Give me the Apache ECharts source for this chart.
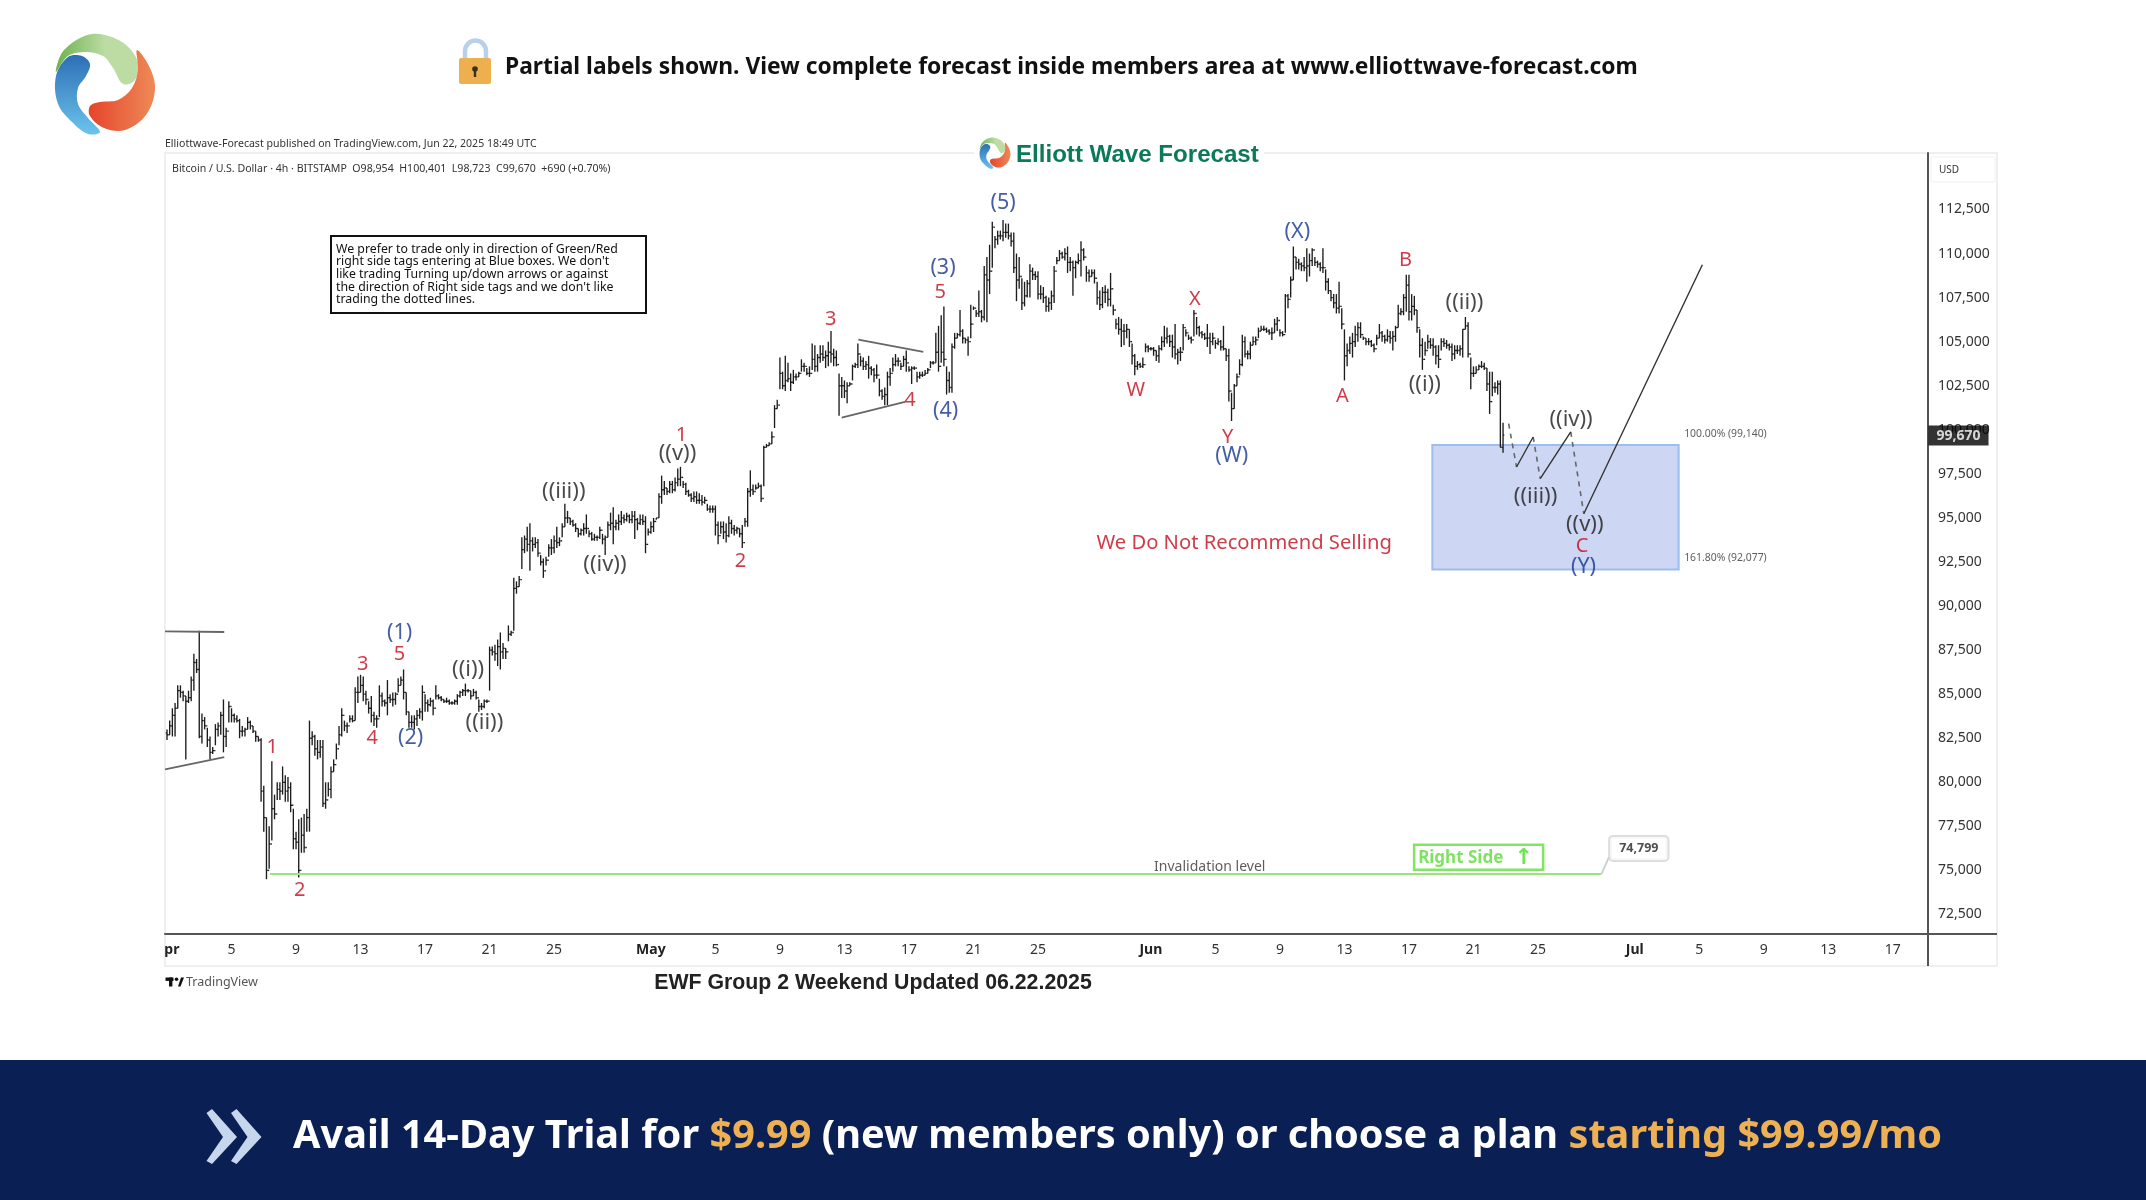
<!DOCTYPE html>
<html>
<head>
<meta charset="utf-8">
<title>Bitcoin Elliott Wave</title>
<script src="https://cdn.jsdelivr.net/npm/echarts@6/dist/echarts.min.js"></script>
<style>
  html, body { margin: 0; padding: 0; background: #fff; }
  #main { width: 2146px; height: 1200px; }
</style>
</head>
<body>
<div id="main"></div>
<script>
"use strict";

// 4h bars, one line per day (Apr 1 .. Jun 22 2025), hundreds of USD
const barHigh = [
  830,835,842,845,855,855, 852,849,852,860,873,870, 886,839,837,831,826,820, 833,834,840,847,831,846,
  842,839,838,836,832,831, 837,835,832,829,826,825, 798,780,775,812,793,800, 800,809,804,803,800,785,
  772,779,780,782,785,835, 829,827,824,824,824,800, 800,809,813,822,832,842, 835,834,838,838,854,860,
  861,860,852,846,849,840, 838,855,851,847,858,850, 851,851,859,860,864,851, 840,838,838,841,842,855,
  850,847,848,847,855,850, 849,847,848,847,846,847, 850,852,853,856,853,852, 853,852,847,845,847,847,
  877,877,878,881,885,879, 876,889,886,916,914,917, 939,940,945,947,939,939, 938,929,927,928,935,938,
  940,945,939,947,958,954, 950,949,947,944,944,947, 952,943,942,941,940,945, 941,940,948,953,956,949,
  952,954,952,953,952,954, 954,950,952,952,951,944,
  948,950,950,964,974,971, 967,971,971,973,978,979, 971,970,966,964,965,965, 964,963,962,958,957,957,
  957,948,948,948,947,951, 949,946,945,944,946,950, 967,977,969,969,970,969, 991,992,993,999,1014,1017,
  1041,1033,1042,1038,1032,1034, 1032,1033,1040,1038,1035,1036, 1049,1048,1043,1048,1048,1045, 1050,1056,1046,1045,1032,1030,
  1028,1027,1027,1037,1038,1049, 1042,1041,1039,1042,1036,1035, 1037,1029,1023,1024,1033,1035, 1041,1043,1041,1038,1042,1045,
  1036,1036,1036,1033,1033,1033, 1034,1035,1039,1039,1055,1059, 1065,1070,1036,1033,1049,1055, 1055,1068,1057,1052,1053,1071,
  1070,1068,1079,1068,1093,1098, 1105,1118,1110,1113,1113,1119, 1117,1117,1112,1112,1100,1098, 1086,1084,1085,1094,1092,1090,
  1090,1082,1081,1076,1075,1079, 1093,1098,1102,1101,1103,1104, 1098,1096,1096,1100,1107,1103, 1093,1091,1091,1091,1084,1079,
  1081,1082,1080,1089,1071,1063, 1064,1063,1060,1060,1057,1049, 1043,1039,1038,1041,1049,1048,
  1047,1047,1045,1048,1053,1059, 1058,1054,1054,1060,1046,1047, 1060,1057,1054,1053,1068,1064, 1059,1056,1055,1060,1055,1055,
  1051,1052,1051,1059,1046,1046, 1021,1026,1032,1040,1054,1053, 1045,1050,1053,1053,1058,1059, 1059,1058,1057,1058,1063,1064,
  1057,1056,1077,1077,1087,1104, 1098,1097,1095,1098,1103,1100, 1103,1098,1096,1095,1103,1091, 1086,1079,1077,1077,1084,1069,
  1057,1049,1053,1055,1059,1061, 1061,1053,1052,1052,1051,1049, 1054,1060,1056,1054,1057,1056, 1056,1059,1071,1069,1077,1088,
  1088,1077,1076,1068,1057,1052, 1050,1054,1052,1052,1048,1048, 1052,1052,1051,1049,1049,1048, 1048,1048,1057,1064,1061,1041,
  1036,1036,1037,1039,1038,1035, 1033,1033,1027,1028,1028,1004
];
const barLow = [
  824,827,826,826,842,848, 846,813,845,846,852,862, 825,822,830,820,813,816, 821,826,827,817,820,834,
  834,834,834,825,826,826, 830,830,828,823,823,789, 772,745,751,767,779,790, 790,793,789,789,783,762,
  762,746,760,760,772,772, 821,815,813,814,786,785, 792,791,806,813,821,826, 829,828,834,834,835,845,
  851,846,844,839,834,832, 831,837,843,843,838,845, 843,844,851,855,847,838, 831,831,830,832,836,835,
  840,840,843,838,847,847, 846,845,845,844,844,844, 844,848,849,849,851,847, 849,847,840,841,842,845,
  852,872,869,866,864,870, 870,880,883,886,907,911, 921,930,931,920,931,933, 928,923,916,923,928,929,
  930,933,934,939,945,947, 946,945,942,939,940,940, 941,939,937,937,937,938, 935,929,939,943,935,943,
  943,946,947,948,947,947, 938,943,946,946,930,940,
  941,942,949,950,958,963, 963,964,964,965,968,968, 967,963,962,959,959,958, 958,957,958,954,953,953,
  940,935,941,938,936,939, 941,940,941,939,933,945, 945,962,963,966,967,959, 968,990,991,992,1001,1012,
  1023,1023,1022,1027,1022,1026, 1028,1030,1033,1033,1031,1030, 1034,1033,1033,1038,1039,1035, 1036,1038,1036,1036,1008,1018,
  1018,1015,1025,1028,1035,1035, 1036,1034,1034,1029,1031,1027, 1029,1019,1017,1014,1014,1025, 1033,1036,1036,1034,1036,1033,
  1033,1026,1034,1027,1029,1030, 1031,1032,1035,1037,1038,1033, 1038,1036,1020,1021,1021,1046, 1052,1053,1049,1049,1042,1052,
  1068,1064,1064,1061,1062,1061, 1077,1092,1103,1105,1108,1107, 1109,1108,1104,1089,1073,1080, 1068,1070,1075,1075,1085,1085,
  1074,1074,1072,1067,1067,1068, 1072,1094,1096,1097,1096,1089, 1090,1076,1086,1094,1087,1096, 1084,1084,1087,1083,1071,1068,
  1069,1072,1070,1070,1065,1057, 1054,1047,1048,1052,1047,1037, 1031,1034,1035,1035,1044,1044,
  1045,1042,1039,1038,1045,1047, 1049,1047,1041,1040,1037,1039, 1045,1053,1051,1049,1053,1054, 1053,1052,1051,1047,1043,1048,
  1046,1048,1045,1045,1039,1016, 1005,1012,1025,1031,1036,1041, 1040,1040,1048,1048,1052,1056, 1056,1055,1054,1051,1055,1056,
  1053,1053,1055,1069,1075,1085, 1091,1091,1090,1090,1084,1087, 1093,1093,1092,1090,1089,1079, 1077,1073,1069,1066,1066,1057,
  1028,1036,1043,1041,1047,1050, 1052,1051,1048,1048,1047,1044, 1048,1052,1050,1049,1050,1049, 1045,1050,1058,1065,1065,1067,
  1062,1062,1065,1055,1041,1034, 1042,1046,1046,1042,1037,1035, 1045,1047,1046,1045,1039,1040, 1043,1042,1041,1057,1041,1023,
  1030,1032,1034,1035,1034,1022, 1009,1019,1021,1020,990,987
];
const barClose = [
  827,832,838,842,852,851, 849,846,848,858,868,864, 826,835,832,824,817,818, 830,832,838,826,829,843,
  838,836,835,829,829,830, 834,832,829,826,824,795, 780,750,765,785,782,796, 795,800,795,797,787,768,
  766,750,770,763,780,825, 826,819,817,820,788,790, 796,806,810,819,827,838, 832,832,836,835,851,851,
  855,850,847,842,838,836, 836,849,846,845,848,847, 847,850,855,858,851,840, 834,834,836,838,840,851,
  845,844,846,842,849,848, 847,846,846,845,845,846, 849,851,852,852,852,849, 851,848,843,843,846,846,
  875,874,873,877,874,876, 874,884,885,910,911,915, 932,938,935,937,935,936, 930,925,920,926,933,933,
  937,936,937,945,950,950, 948,946,944,941,943,944, 944,941,938,939,939,943, 938,939,946,947,945,947,
  948,950,949,951,949,951, 949,947,949,948,935,942,
  945,948,950,962,966,967, 965,969,966,970,972,973, 969,965,963,961,962,960, 960,959,960,955,955,955,
  946,940,945,942,940,947, 944,943,944,941,936,948, 965,966,965,967,968,961, 990,991,992,996,1012,1014,
  1032,1025,1028,1029,1027,1030, 1030,1032,1036,1036,1032,1032, 1040,1036,1041,1043,1041,1042, 1044,1043,1041,1037,1025,1025,
  1022,1025,1026,1036,1037,1043, 1039,1036,1037,1035,1034,1031, 1031,1022,1019,1020,1030,1032, 1037,1039,1039,1036,1040,1038,
  1034,1035,1035,1030,1031,1031, 1032,1034,1038,1038,1044,1036, 1044,1040,1028,1024,1047,1052, 1054,1056,1052,1051,1050,1060,
  1069,1066,1067,1064,1088,1085, 1090,1115,1108,1110,1110,1112, 1112,1110,1107,1092,1085,1087, 1072,1076,1083,1090,1088,1087,
  1077,1077,1075,1070,1072,1076, 1090,1096,1100,1098,1100,1095, 1095,1092,1095,1096,1102,1098, 1089,1087,1089,1086,1075,1071,
  1078,1078,1074,1080,1068,1060, 1057,1056,1056,1057,1050,1042, 1036,1037,1036,1037,1047,1046,
  1046,1045,1042,1046,1050,1052, 1053,1050,1047,1043,1044,1044, 1058,1055,1052,1051,1066,1058, 1055,1054,1052,1052,1050,1052,
  1049,1050,1047,1046,1042,1022, 1012,1025,1030,1037,1050,1043, 1043,1048,1050,1051,1056,1057, 1057,1056,1055,1055,1060,1062,
  1055,1054,1076,1074,1085,1098, 1095,1094,1093,1092,1093,1096, 1102,1095,1094,1092,1092,1084, 1079,1075,1072,1069,1070,1060,
  1042,1045,1049,1050,1054,1058, 1054,1052,1050,1050,1048,1046, 1052,1055,1053,1051,1053,1052, 1053,1058,1066,1067,1075,1082,
  1067,1070,1068,1058,1048,1040, 1045,1050,1048,1047,1042,1040, 1050,1049,1048,1047,1043,1045, 1045,1046,1057,1059,1043,1032,
  1032,1034,1036,1036,1035,1026, 1016,1024,1024,1026,990,997
];
const firstOpen = 828;

const yTickValues = [72500, 75000, 77500, 80000, 82500, 85000, 87500, 90000, 92500, 95000, 97500, 100000, 102500, 105000, 107500, 110000, 112500];
const xTickDates = ["2025-04-01","2025-04-05","2025-04-09","2025-04-13","2025-04-17","2025-04-21","2025-04-25","2025-05-01","2025-05-05","2025-05-09","2025-05-13","2025-05-17","2025-05-21","2025-05-25","2025-06-01","2025-06-05","2025-06-09","2025-06-13","2025-06-17","2025-06-21","2025-06-25","2025-07-01","2025-07-05","2025-07-09","2025-07-13","2025-07-17"];
const xTickLabels = ["Apr","5","9","13","17","21","25","May","5","9","13","17","21","25","Jun","5","9","13","17","21","25","Jul","5","9","13","17"];

// wave labels: days since Apr 1, price
const redLabels = ["1","2","3","5","4","1","2","3","5","4","W","X","Y","A","B","C"];
const redDays = [6.53,8.23,12.13,14.42,12.73,31.9,35.55,41.15,47.94,46.07,60.07,63.72,65.76,72.88,76.79,87.73];
const redPrices = [81970,73896,86705,87248,82513,99667,92526,106265,107817,101686,102229,107429,99590,101918,109603,93380];
const blueLabels = ["(1)","(2)","(3)","(4)","(5)","(W)","(X)","(Y)"];
const blueDays = [14.42,15.1,48.11,48.28,51.84,66.01,70.08,87.82];
const bluePrices = [88490,82513,109215,101065,112863,98503,111233,92216];
const blackLabels = ["((i))","((ii))","((iii))","((iv))","((v))","((i))","((ii))","((iii))","((iv))","((v))"];
const blackDays = [18.67,19.68,24.6,27.15,31.65,77.98,80.44,84.85,87.05,87.9];
const blackPrices = [86394,83367,96485,92371,98658,102539,107197,96175,100599,94622];

// projected path after the last bar
const pathDays = [83.18,83.67,84.7,85.14,87.03,87.84,95.19];
const pathPrices = [100346,97890,99592,97226,99876,95240,109368];

// blue box
const boxDays = [78.45,93.72];
const boxPrices = [99140,92077];
const boxLabels = ["100.00% (99,140)","161.80% (92,077)"];

// triangles
const triangleDays = [[-0.12,3.55],[-0.12,3.55],[42.86,46.89],[41.83,45.75]];
const trianglePrices = [[88567,88529],[80737,81435],[105112,104415],[100687,101578]];

const invalidationPrice = 74799;
const invalidationDays = [6.39,88.94];
const lastPrice = 99670;

const grid = { left: 165, top: 153, width: 1763, height: 781 };
const DAY = 86400000;
const startTime = Date.UTC(2025, 3, 1);
const xMin = startTime - 0.124 * DAY;
const xMax = startTime + 109.18 * DAY;
const yMin = 71393;
const yMax = 115705;
const toTime = (d) => startTime + d * DAY;

const xTickTimes = xTickDates.map((d) => new Date(d + "T00:00:00Z").getTime());
const monthNames = ["Apr", "May", "Jun", "Jul"];

const bars = barHigh.map((h, i) => [
  startTime + i * DAY / 6,
  (i ? barClose[i - 1] : firstOpen) * 100,
  h * 100,
  barLow[i] * 100,
  barClose[i] * 100,
]);

function renderBar(params, api) {
  const t = api.value(0);
  const hi = api.coord([t, api.value(2)]);
  const lo = api.coord([t, api.value(3)]);
  const op = api.coord([t, api.value(1)]);
  const cl = api.coord([t, api.value(4)]);
  const style = { stroke: "#1c1c1c", lineWidth: 1.35, fill: null };
  return {
    type: "group",
    children: [
      { type: "line", shape: { x1: hi[0], y1: hi[1], x2: lo[0], y2: lo[1] }, style },
      { type: "line", shape: { x1: op[0] - 1.3, y1: op[1], x2: op[0], y2: op[1] }, style },
      { type: "line", shape: { x1: cl[0], y1: cl[1], x2: cl[0] + 1.3, y2: cl[1] }, style },
    ],
  };
}

function waveSeries(labels, days, prices, color, fontSize) {
  return {
    type: "scatter",
    silent: true,
    z: 6,
    clip: false,
    symbolSize: 1,
    itemStyle: { color: "transparent" },
    label: {
      show: true,
      position: "inside",
      color,
      fontFamily: "Noto Sans",
      fontSize,
      formatter: (p) => p.value[2],
    },
    data: labels.map((t, i) => [toTime(days[i]), prices[i], t]),
  };
}

// one anchored text label, no symbol
function noteSeries(day, price, text, label) {
  return {
    type: "scatter",
    silent: true,
    z: 7,
    clip: false,
    symbolSize: 1,
    itemStyle: { color: "transparent" },
    label: Object.assign({ show: true, fontFamily: "Noto Sans", formatter: text }, label),
    data: [[toTime(day), price]],
  };
}

function lineSeries(data, color, width, type, z) {
  return {
    type: "line",
    silent: true,
    z: z || 4,
    symbol: "none",
    connectNulls: false,
    lineStyle: { color, width, type: type || "solid" },
    data,
  };
}

const pathPoint = (i) => [toTime(pathDays[i]), pathPrices[i]];
const gap = [null, null];

let series = [
  {
    type: "line",
    silent: true,
    z: 1,
    symbol: "none",
    data: [],
    markArea: {
      silent: true,
      itemStyle: { color: "#cdd7f3", borderColor: "#9dbcf0", borderWidth: 2 },
      data: [[
        { xAxis: toTime(boxDays[0]), yAxis: boxPrices[0] },
        { xAxis: toTime(boxDays[1]), yAxis: boxPrices[1] },
      ]],
    },
  },
  {
    type: "custom",
    silent: true,
    z: 3,
    clip: true,
    renderItem: renderBar,
    encode: { x: 0, y: [1, 2, 3, 4] },
    data: bars,
  },
  lineSeries([pathPoint(0), pathPoint(1), gap, pathPoint(2), pathPoint(3), gap, pathPoint(4), pathPoint(5)], "#666", 1.6, [5, 5]),
  lineSeries([pathPoint(1), pathPoint(2), gap, pathPoint(3), pathPoint(4), gap, pathPoint(5), pathPoint(6)], "#333", 1.4),
  lineSeries([[toTime(invalidationDays[0]), invalidationPrice], [toTime(invalidationDays[1]), invalidationPrice]], "#9be37f", 2),
  lineSeries([[toTime(invalidationDays[1]), invalidationPrice], [toTime(89.4), 75760]], "#cfcfcf", 2),
  waveSeries(redLabels, redDays, redPrices, "#c40a1a", 20),
  waveSeries(blueLabels, blueDays, bluePrices, "#16348f", 21.5),
  waveSeries(blackLabels, blackDays, blackPrices, "#1c1c1c", 22),
  noteSeries(66.78, 93536, "We Do Not Recommend Selling", { position: "inside", color: "#c40a1a", fontSize: 20.2 }),
  noteSeries(64.65, 75218, "Invalidation level", { position: "inside", color: "#333", fontSize: 14 }),
  noteSeries(boxDays[1], boxPrices[0], boxLabels[0], { position: "right", distance: 5, offset: [0, -11], color: "#333", fontSize: 10.4 }),
  noteSeries(boxDays[1], boxPrices[1], boxLabels[1], { position: "right", distance: 5, offset: [0, -11], color: "#333", fontSize: 10.4 }),
  noteSeries(91.25, 76250, "74,799", {
    position: "inside", color: "#222", fontSize: 12.5, fontWeight: "bold",
    backgroundColor: "#fff", borderColor: "#d5d5d5", borderWidth: 2, borderRadius: 3, padding: [5, 9],
  }),
  noteSeries(81.32, 75745, "{t|Right Side}{a|↑}", {
    position: "inside", borderColor: "#62dd3c", borderWidth: 2.5, padding: [2, 4], width: 121, height: 21,
    align: "center", verticalAlign: "middle",
    rich: {
      t: { color: "#5fdb3c", fontSize: 17, fontWeight: "bold", fontFamily: "Noto Sans", width: 90, align: "left" },
      a: { color: "#4fdc2a", fontSize: 22, fontFamily: "DejaVu Sans", fontWeight: "bold", width: 28, align: "center" },
    },
  }),
  noteSeries(109.18, lastPrice, "99,670", {
    position: "right", distance: 0, color: "#fff", fontSize: 14, fontWeight: "bold",
    backgroundColor: "#000", padding: [3, 8],
  }),
];

triangleDays.forEach((d, i) => {
  series.push(lineSeries([[toTime(d[0]), trianglePrices[i][0]], [toTime(d[1]), trianglePrices[i][1]]], "#666", 1.8));
});

const swoosh = (points, from, to, x2, y2) => ({
  type: "polygon",
  shape: { points, smooth: 0.35 },
  style: { fill: new echarts.graphic.LinearGradient(0, 0, x2, y2, [{ offset: 0, color: from }, { offset: 1, color: to }]) },
});

function logo(ox, oy, k) {
  const p = (pts) => pts.map((q) => [ox + (q[0] - 105) * k, oy + (q[1] - 84) * k]);
  return [
    swoosh(p([[56,72],[64,50],[92,34],[122,42],[138,62],[135,80],[123,84],[113,68],[103,56],[86,52],[68,56]]), "#6db24f", "#bcdca4", 0.6, 0),
    swoosh(p([[56,76],[68,57],[82,56],[90,64],[86,76],[78,88],[78,104],[88,118],[100,132],[88,134],[72,122],[58,104]]), "#2c6fb5", "#6cc3ec", 0, 1),
    swoosh(p([[137,50],[150,68],[155,90],[146,115],[125,130],[104,128],[90,116],[90,106],[100,102],[118,100],[132,88],[138,70]]), "#e5452b", "#ee8a58", 1, 0),
  ];
}

const text = (x, y, str, fontSize, color, extra) => ({
  type: "text",
  x, y, z: 20,
  style: Object.assign({ text: str, fontSize, fill: color, fontFamily: "Noto Sans", verticalAlign: "middle" }, extra),
});
const hline = (x1, y1, x2, y2, stroke, lineWidth) => ({
  type: "line", z: 1, shape: { x1, y1, x2, y2 }, style: { stroke, lineWidth },
});

const chevron = (dx) => ({
  type: "polygon",
  shape: { points: [[206.5 + dx, 1113], [212 + dx, 1109], [237 + dx, 1137], [212 + dx, 1164], [206.5 + dx, 1161], [223 + dx, 1137]] },
  style: { fill: "#c6d6ec" },
});

const graphics = [
  // frame around the chart
  { type: "rect", z: -1, shape: { x: 165, y: 153, width: 1832, height: 813 }, style: { fill: "#fff", stroke: "#efefef", lineWidth: 2 } },
  hline(1928, 934, 1997, 934, "#555", 2),
  hline(1928, 934, 1928, 966, "#555", 2),
  // hides the left part of the Apr tick
  { type: "rect", z: 30, shape: { x: 140, y: 936, width: 24, height: 28 }, style: { fill: "#fff" } },

  ...logo(105, 84, 1),
  // lock
  { type: "arc", z: 20, shape: { cx: 475.5, cy: 51, r: 10.5, startAngle: Math.PI, endAngle: 0 }, style: { stroke: "#b8d1ea", lineWidth: 4.5, fill: null } },
  hline(465, 51, 465, 60, "#b8d1ea", 4.5),
  hline(486, 51, 486, 60, "#b8d1ea", 4.5),
  { type: "rect", z: 21, shape: { x: 459, y: 58, width: 32, height: 26, r: 2 }, style: { fill: "#eeb04f" } },
  { type: "circle", z: 22, shape: { cx: 475, cy: 69, r: 2.8 }, style: { fill: "#3a3020" } },
  { type: "rect", z: 22, shape: { x: 473.8, y: 70, width: 2.4, height: 7 }, style: { fill: "#3a3020" } },
  text(505, 68, "Partial labels shown. View complete forecast inside members area at www.elliottwave-forecast.com", 22.8, "#111", { fontWeight: "bold" }),

  text(165, 144, "Elliottwave-Forecast published on TradingView.com, Jun 22, 2025 18:49 UTC", 10.55, "#333"),
  text(172, 169, "Bitcoin / U.S. Dollar · 4h · BITSTAMP  O98,954  H100,401  L98,723  C99,670  +690 (+0.70%)", 10.6, "#333"),

  // small logo on the frame
  { type: "rect", z: 5, shape: { x: 974, y: 146, width: 290, height: 14 }, style: { fill: "#fff" } },
  ...logo(995, 153, 0.31).map((e) => Object.assign(e, { z: 20 })),
  text(1016, 155, "Elliott Wave Forecast", 24.1, "#0b7a5a", { fontWeight: "bold", fontFamily: "Liberation Sans" }),

  // note box
  { type: "rect", z: 20, shape: { x: 331, y: 236, width: 315, height: 77 }, style: { fill: "#fff", stroke: "#111", lineWidth: 2 } },
  text(336, 274.5, "We prefer to trade only in direction of Green/Red\nright side tags entering at Blue boxes. We don't\nlike trading Turning up/down arrows or against\nthe direction of Right side tags and we don't like\ntrading the dotted lines.", 12.3, "#111", { lineHeight: 12.7 }),

  // USD
  { type: "rect", z: 5, shape: { x: 1931, y: 157, width: 64, height: 25, r: 2 }, style: { fill: "#fff", stroke: "#f0f0f0", lineWidth: 1 } },
  text(1939, 170.5, "USD", 10, "#333"),

  // TradingView mark
  { type: "rect", z: 20, shape: { x: 165.5, y: 977.5, width: 8, height: 3.4 }, style: { fill: "#111" } },
  { type: "rect", z: 20, shape: { x: 169, y: 977.5, width: 3.4, height: 9 }, style: { fill: "#111" } },
  { type: "circle", z: 20, shape: { cx: 176.5, cy: 979.2, r: 1.8 }, style: { fill: "#111" } },
  { type: "polygon", z: 20, shape: { points: [[178, 986.5], [181, 977.5], [184, 977.5], [180.5, 986.5]] }, style: { fill: "#111" } },
  text(186, 982, "TradingView", 12.5, "#555"),
  text(873, 983.5, "EWF Group 2 Weekend Updated 06.22.2025", 21.3, "#222", { fontWeight: "bold", fontFamily: "Liberation Sans", align: "center" }),

  // footer band
  { type: "rect", z: 40, shape: { x: 0, y: 1060, width: 2146, height: 140 }, style: { fill: "#0a2055" } },
  Object.assign(chevron(0), { z: 41 }),
  Object.assign(chevron(24.5), { z: 41 }),
  {
    type: "text", z: 41, x: 293, y: 1136.5,
    style: {
      text: "{w|Avail 14-Day Trial for }{o|$9.99}{w| (new members only) or choose a plan }{o|starting $99.99/mo}",
      verticalAlign: "middle",
      rich: {
        w: { fill: "#fff", fontSize: 39.7, fontWeight: "bold", fontFamily: "Noto Sans" },
        o: { fill: "#edb052", fontSize: 39.7, fontWeight: "bold", fontFamily: "Noto Sans" },
      },
    },
  },
];

let chartDom = document.getElementById("main");
let myChart = echarts.init(chartDom);

let option = {
  animation: false,
  backgroundColor: "#fff",
  tooltip: { show: false },
  grid: Object.assign({ containLabel: false }, grid),
  xAxis: {
    type: "value",
    min: xMin,
    max: xMax,
    axisLine: { show: true, onZero: false, lineStyle: { color: "#555", width: 2 } },
    axisTick: { show: false },
    splitLine: { show: false },
    axisLabel: {
      customValues: xTickTimes,
      margin: 9,
      color: "#333",
      fontFamily: "Noto Sans",
      fontSize: 14,
      hideOverlap: false,
      formatter: (value) => {
        const name = xTickLabels[xTickTimes.indexOf(value)];
        return monthNames.includes(name) ? "{m|" + name + "}" : name;
      },
      rich: { m: { color: "#222", fontFamily: "Noto Sans", fontSize: 14, fontWeight: "bold" } },
    },
  },
  yAxis: {
    type: "value",
    position: "right",
    min: yMin,
    max: yMax,
    axisLine: { show: true, onZero: false, lineStyle: { color: "#555", width: 2 } },
    axisTick: { show: false },
    splitLine: { show: false },
    axisLabel: {
      customValues: yTickValues,
      margin: 10,
      color: "#333",
      fontFamily: "Noto Sans",
      fontSize: 14,
      hideOverlap: false,
      formatter: (v) => v.toLocaleString("en-US"),
    },
  },
  graphic: { elements: graphics },
  series,
};

option && myChart.setOption(option);
</script>
</body>
</html>
